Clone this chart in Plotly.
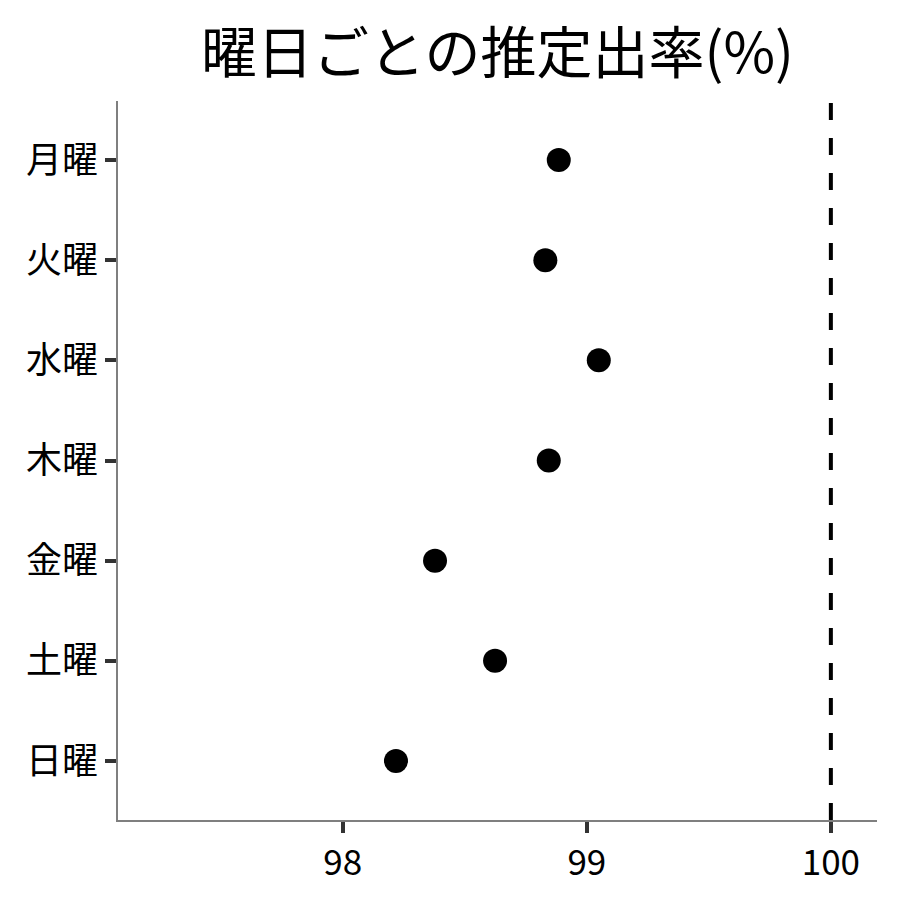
import plotly.graph_objects as go

days = ["月曜", "火曜", "水曜", "木曜", "金曜", "土曜", "日曜"]
rates = [98.885, 98.830, 99.049, 98.844, 98.378, 98.624, 98.218]
x_ticks = [98, 99, 100]
reference_value = 100
title_text = "曜日ごとの推定出率(%)"

FONT = "Noto Sans CJK JP"

fig = go.Figure()
fig.add_trace(go.Scatter(
    x=rates, y=days, mode="markers",
    marker=dict(color="black", size=24, line=dict(width=0)),
    showlegend=False, hoverinfo="x+y",
))

fig.add_shape(
    type="line", xref="x", yref="paper",
    x0=reference_value, x1=reference_value, y0=0, y1=1,
    line=dict(color="black", width=4, dash="17px,18px"),
    layer="above",
)

n = len(days)
fig.update_layout(
    width=900, height=900,
    margin=dict(l=110, r=31, t=93, b=88),
    paper_bgcolor="white", plot_bgcolor="white",
    font=dict(family=FONT, color="black", size=36),
    title=dict(text=title_text, x=0.5, xref="paper", xanchor="center",
               y=1 - 45 / 900, yref="container", yanchor="middle",
               font=dict(family=FONT, size=56, color="black")),
    xaxis=dict(
        range=[97.079, 100.189], tickvals=x_ticks, ticktext=[str(v) for v in x_ticks],
        showgrid=False, zeroline=False,
        showline=True, linecolor="#7f7f7f", linewidth=1.5,
        ticks="outside", ticklen=11, tickwidth=3.5, tickcolor="#333333",
        tickfont=dict(family=FONT, size=35, color="black"),
    ),
    yaxis=dict(
        type="category", categoryorder="array", categoryarray=days,
        range=[n - 1 + 0.59, -0.59],
        showgrid=False, zeroline=False,
        showline=True, linecolor="#7f7f7f", linewidth=1.5,
        ticks="outside", ticklen=11, tickwidth=3.5, tickcolor="#333333",
        tickfont=dict(family=FONT, size=36, color="black"),
        ticklabelstandoff=0,
    ),
)

fig.write_html("out.html")
